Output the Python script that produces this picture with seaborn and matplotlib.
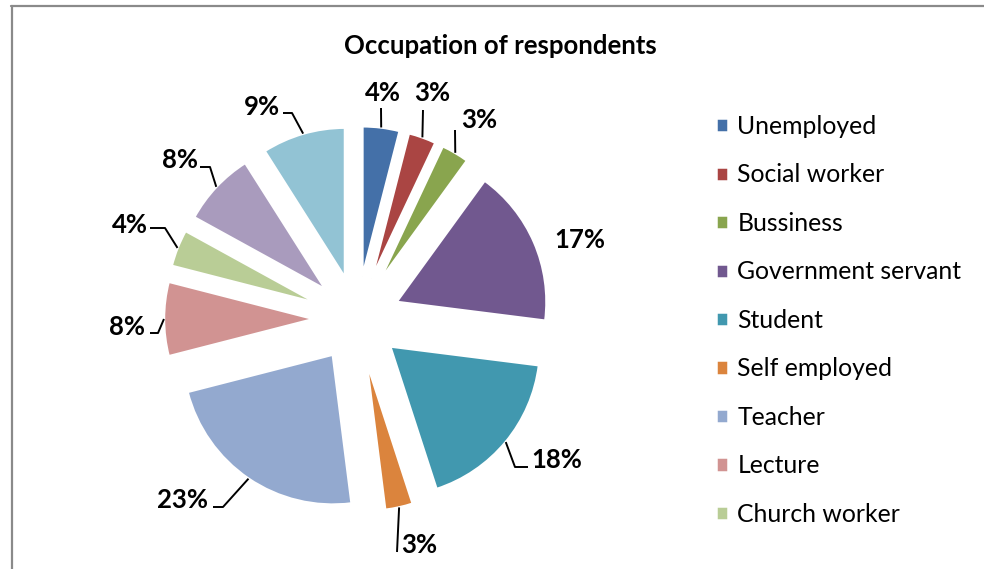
import numpy as np
import matplotlib
matplotlib.use("Agg")
import matplotlib.pyplot as plt
import seaborn as sns
from matplotlib.lines import Line2D

# ---- data ----
categories = ["Unemployed", "Social worker", "Bussiness", "Government servant",
              "Student", "Self employed", "Teacher", "Lecture", "Church worker",
              "Other 1", "Other 2"]
percent = [4, 3, 3, 17, 18, 3, 23, 8, 4, 8, 9]
legend_shown = categories[:9]
colors = ["#4470A8", "#AA4543", "#89A54E", "#71588F", "#4198AF", "#DB843D",
          "#93A9CF", "#D19392", "#B9CD96", "#A99BBD", "#92C3D4"]
title = "Occupation of respondents"

# ---- layout (pixels) ----
W, H = 984, 569
CX, CY, R = 357, 319, 150          # pie centre / radius in pixels
EXPLODE = 0.287

# label text centre and leader elbow/end points (pixel coords); None = no line
label_layout = [
    ((383, 93), [(381, 108)]),
    ((432, 93), [(423, 110)]),
    ((479, 120), [(455, 130)]),
    ((580, 240), None),
    ((557, 460), [(515, 467), (528, 467)]),
    ((419, 545), [(397, 552)]),
    ((183, 500), [(223, 507), (213, 507)]),
    ((127, 327), [(158, 333), (150, 333)]),
    ((130, 225), [(165, 228), (150, 228)]),
    ((180, 160), [(210, 167), (200, 167)]),
    ((262, 107), [(292, 113), (283, 113)]),
]

def px2d(p):
    return ((p[0] - CX) / R, (CY - p[1]) / R)

sns.set_theme(style="white")
plt.rcParams["font.family"] = ["Lato", "DejaVu Sans"]

fig = plt.figure(figsize=(W / 100, H / 100), dpi=100)
ax = fig.add_axes([0, 0, 1, 1])

wedges, _ = ax.pie(percent, colors=colors, startangle=90, counterclock=False,
                   explode=[EXPLODE] * len(percent), radius=1.0,
                   wedgeprops=dict(edgecolor="white", linewidth=1.8),
                   normalize=True)
ax.set_xlim(-CX / R, (W - CX) / R)
ax.set_ylim((CY - H) / R, CY / R)
ax.set_aspect("auto")
ax.axis("off")

for w, pct, (tpos, pts) in zip(wedges, percent, label_layout):
    ang = np.deg2rad((w.theta1 + w.theta2) / 2)
    cx, cy = w.center
    anchor = (cx + w.r * np.cos(ang), cy + w.r * np.sin(ang))
    tx, ty = px2d(tpos)
    ax.text(tx, ty, f"{pct}%", ha="center", va="center", fontsize=18.5,
            fontweight="bold", color="black")
    if pts:
        xs = [anchor[0]] + [px2d(p)[0] for p in pts]
        ys = [anchor[1]] + [px2d(p)[1] for p in pts]
        ax.plot(xs, ys, color="black", lw=1.4, solid_capstyle="butt")

fig.text(500 / W, 1 - 46 / H, title, ha="center", va="center",
         fontsize=18.5, fontweight="bold", color="black")

leg = fig.legend(wedges[:9], legend_shown, loc="upper left",
                 bbox_to_anchor=(716 / W, 1 - 115 / H), frameon=False,
                 fontsize=17.8, handlelength=0.5, handleheight=0.5,
                 handletextpad=0.36, labelspacing=1.03, borderpad=0,
                 borderaxespad=0)
for t in leg.get_texts():
    t.set_color("black")

# frame lines (top and left)
fig.add_artist(Line2D([11 / W, 1], [1 - 6 / H, 1 - 6 / H], transform=fig.transFigure,
                      color="#8a8a8a", lw=1.6))
fig.add_artist(Line2D([12 / W, 12 / W], [0, 1 - 6 / H], transform=fig.transFigure,
                      color="#8a8a8a", lw=1.6))

fig.savefig("out.png", dpi=100, facecolor="white")
